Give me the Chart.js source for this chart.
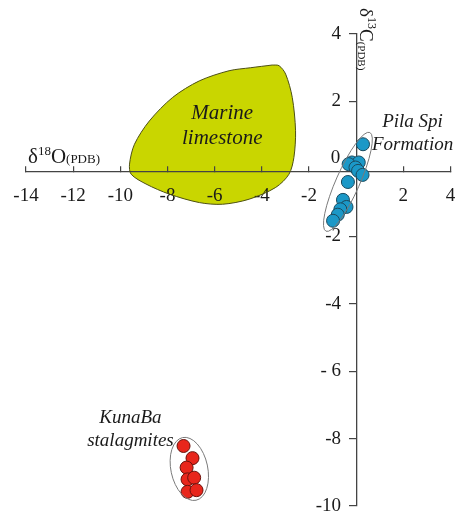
<!DOCTYPE html>
<html><head><meta charset="utf-8">
<script src="https://cdn.jsdelivr.net/npm/chart.js@4"></script>
<style>html,body{margin:0;padding:0;background:#fff;overflow:hidden}</style>
</head><body>
<canvas id="c" width="458" height="514"></canvas>
<script>
// ---- data ----
const xTicks = [-14, -12, -10, -8, -6, -4, -2, 0, 2, 4];
const xTickLabels = ['-14', '-12', '-10', '-8', '-6', '-4', '-2', '', '2', '4'];
const yTicks = [-10, -8, -6, -4, -2, 0, 2, 4];
const yTickLabels = ['-10', '-8', '- 6', '-4', '-2', '', '2', '4'];
const yZeroLabel = '0';

// Marine limestone field (outline, closed)
const marineX = [-3.56, -4.47, -5.39, -6.65, -7.78, -8.77, -9.40, -9.61, -9.54, -8.91, -7.92, -6.65, -5.67, -4.54, -3.41, -2.85, -2.64, -2.57, -2.71, -2.99, -3.27, -3.56];
const marineY = [3.08, 3.00, 2.91, 2.61, 2.12, 1.42, 0.73, 0.14, -0.16, -0.45, -0.75, -1.00, -1.05, -0.90, -0.55, -0.16, 0.34, 1.13, 2.12, 2.81, 3.06, 3.08];

// Pila Spi Formation samples
const pilaX = [0.29, -0.18, 0.11, -0.32, -0.03, 0.08, 0.27, -0.35, -0.56, -0.41, -0.67, -0.78, -0.98];
const pilaY = [0.73, 0.19, 0.19, 0.14, 0.04, -0.06, -0.18, -0.39, -0.92, -1.13, -1.20, -1.36, -1.54];

// KunaBa stalagmites samples
const kunaX = [-7.32, -6.94, -7.19, -7.15, -6.87, -7.15, -6.77];
const kunaY = [-8.22, -8.58, -8.86, -9.21, -9.16, -9.58, -9.53];

// group outlines (major axis end points, half width in x units)
const groupOutlines = [
  { from: [0.58, 1.08], to: [-1.28, -1.85], halfWidthX: 0.5 },
  { from: [-7.36, -7.97], to: [-6.79, -9.83], halfWidthX: 0.78 }
];

// text labels
const annotations = [
  { lines: ['Marine', 'limestone'], x: -5.68, y: 1.48, size: 21 },
  { lines: ['Pila Spi', 'Formation'], x: 2.39, y: 1.23, size: 19 },
  { lines: ['KunaBa', 'stalagmites'], x: -9.57, y: -7.53, size: 19 }
];

const toPts = (xs, ys) => xs.map((x, i) => ({ x: x, y: ys[i] }));
const SERIF = "'Liberation Serif', 'Times New Roman', serif";
const INK = '#1a1a1a';

function zeroFit(s) {
  if (s.isHorizontal()) s.height = 0; else s.width = 0;
  s.paddingLeft = 0; s.paddingRight = 0; s.paddingTop = 0; s.paddingBottom = 0;
}

const overlay = {
  id: 'overlay',
  afterDatasetsDraw(chart) {
    const ctx = chart.ctx, xs = chart.scales.x, ys = chart.scales.y;
    const pxPerX = Math.abs(xs.getPixelForValue(1) - xs.getPixelForValue(0));
    ctx.save();
    ctx.strokeStyle = '#7a7a7a';
    ctx.lineWidth = 1;
    groupOutlines.forEach(g => {
      const x1 = xs.getPixelForValue(g.from[0]), y1 = ys.getPixelForValue(g.from[1]);
      const x2 = xs.getPixelForValue(g.to[0]), y2 = ys.getPixelForValue(g.to[1]);
      const cx = (x1 + x2) / 2, cy = (y1 + y2) / 2;
      const rx = Math.hypot(x2 - x1, y2 - y1) / 2;
      const ang = Math.atan2(y2 - y1, x2 - x1);
      ctx.beginPath();
      ctx.ellipse(cx, cy, rx, g.halfWidthX * pxPerX, ang, 0, Math.PI * 2);
      ctx.stroke();
    });
    ctx.restore();
  },
  afterDraw(chart) {
    const ctx = chart.ctx, xs = chart.scales.x, ys = chart.scales.y;
    ctx.save();
    ctx.fillStyle = INK;
    annotations.forEach(a => {
      ctx.font = 'italic ' + a.size + 'px ' + SERIF;
      ctx.textAlign = 'center';
      ctx.textBaseline = 'alphabetic';
      const px = xs.getPixelForValue(a.x), py = ys.getPixelForValue(a.y);
      a.lines.forEach((l, i) => ctx.fillText(l, px, py + i * (a.size + 4)));
    });
    ctx.font = '19px ' + SERIF;
    ctx.textAlign = 'right';
    ctx.textBaseline = 'middle';
    ctx.fillText(yZeroLabel, xs.getPixelForValue(0) - 16, ys.getPixelForValue(0) - 11);

    function rich(parts, x, y) {
      ctx.textAlign = 'left';
      ctx.textBaseline = 'alphabetic';
      let cx = x;
      parts.forEach(p => {
        ctx.font = p.size + 'px ' + SERIF;
        ctx.fillText(p.t, cx, y + (p.dy || 0));
        cx += ctx.measureText(p.t).width;
      });
    }
    rich([
      { t: 'δ', size: 21 }, { t: '18', size: 13, dy: -8 }, { t: 'O', size: 21 }, { t: '(PDB)', size: 13 }
    ], xs.left + 2, ys.getPixelForValue(0) - 6);
    ctx.translate(xs.getPixelForValue(0) + 4, ys.top - 26);
    ctx.rotate(Math.PI / 2);
    rich([
      { t: 'δ', size: 19 }, { t: '13', size: 12, dy: -8 }, { t: 'C', size: 19 }, { t: '(PDB)', size: 11, dy: 2 }
    ], 0, 0);
    ctx.restore();
  }
};

const yTickCallback = v => { const i = yTicks.indexOf(v); return i >= 0 ? yTickLabels[i] : ''; };

new Chart(document.getElementById('c'), {
  type: 'scatter',
  data: {
    datasets: [
      {
        label: 'Marine limestone',
        data: toPts(marineX, marineY),
        showLine: true,
        tension: 0.3,
        fill: 'shape',
        backgroundColor: '#c9d600',
        borderColor: '#4d5014',
        borderWidth: 1,
        pointRadius: 0
      },
      {
        label: 'Pila Spi Formation',
        data: toPts(pilaX, pilaY),
        pointRadius: 6.5,
        pointBackgroundColor: '#1b98c7',
        pointBorderColor: '#1a4a5e',
        pointBorderWidth: 1
      },
      {
        label: 'KunaBa stalagmites',
        data: toPts(kunaX, kunaY),
        pointRadius: 6.5,
        pointBackgroundColor: '#e8261c',
        pointBorderColor: '#6a120c',
        pointBorderWidth: 1
      }
    ]
  },
  options: {
    responsive: false,
    animation: false,
    devicePixelRatio: 1,
    layout: { padding: { left: 26, right: 6, top: 34, bottom: 8 } },
    plugins: {
      legend: { display: false },
      tooltip: { enabled: false },
      filler: { drawTime: 'beforeDraw' }
    },
    scales: {
      x: {
        type: 'linear', min: -14, max: 4,
        position: { y: -0.09 },
        afterFit: zeroFit,
        afterBuildTicks(s) { s.ticks = xTicks.map(v => ({ value: v })); },
        ticks: {
          autoSkip: false, maxRotation: 0,
          callback: v => { const i = xTicks.indexOf(v); return i >= 0 ? xTickLabels[i] : ''; },
          font: { family: SERIF, size: 19 }, color: INK, padding: 19
        },
        grid: { drawOnChartArea: false, drawTicks: true, tickLength: -6, color: '#444', lineWidth: 1.2 },
        border: { display: true, color: '#444', width: 1.3 }
      },
      y: {
        type: 'linear', min: -10, max: 4,
        position: { x: 0 },
        afterFit: zeroFit,
        afterBuildTicks(s) { s.ticks = yTicks.map(v => ({ value: v })); },
        ticks: { display: false },
        grid: { drawOnChartArea: false, drawTicks: true, tickLength: 7, color: '#444', lineWidth: 1.2 },
        border: { display: true, color: '#444', width: 1.3 }
      },
      yLabels: {
        type: 'linear', min: -10, max: 4, axis: 'y',
        position: { x: -0.64 },
        afterFit: zeroFit,
        afterBuildTicks(s) { s.ticks = yTicks.map(v => ({ value: v })); },
        ticks: {
          autoSkip: false,
          callback: yTickCallback,
          font: { family: SERIF, size: 19 }, color: INK, padding: 0
        },
        grid: { display: false, drawOnChartArea: false, drawTicks: false },
        border: { display: false }
      }
    }
  },
  plugins: [overlay]
});
</script>
</body></html>
